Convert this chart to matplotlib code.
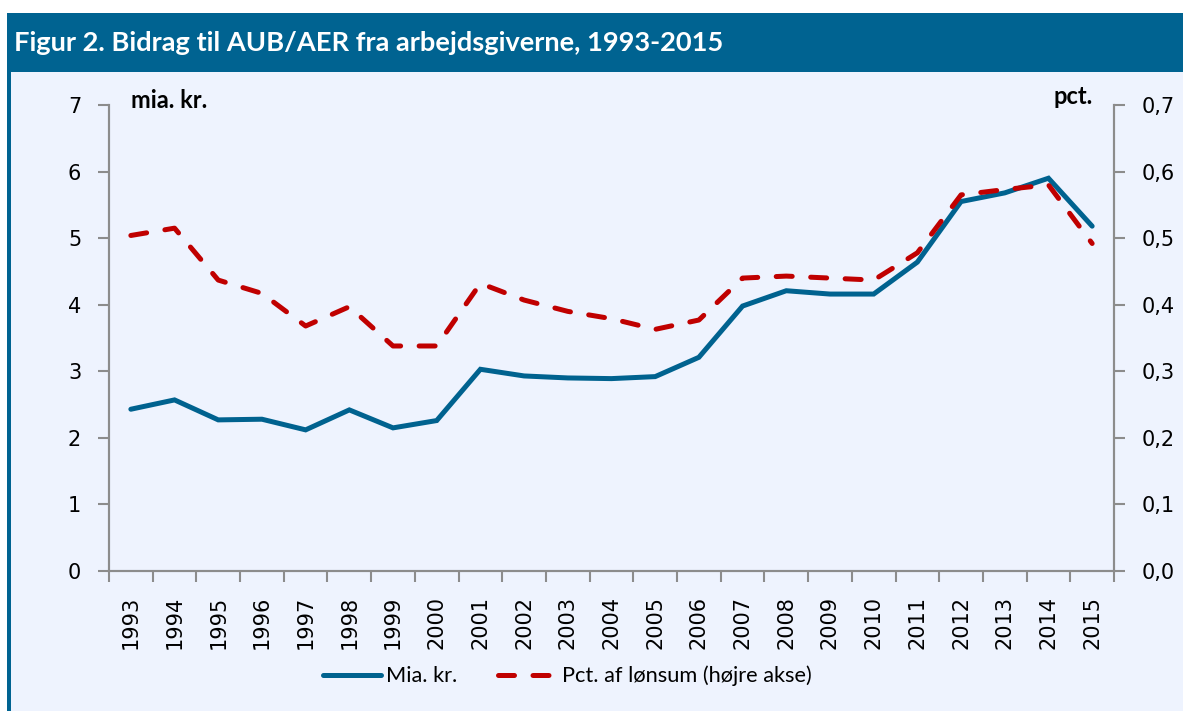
import numpy as np
import matplotlib
matplotlib.use("Agg")
import matplotlib.pyplot as plt
from matplotlib.patches import Rectangle

# data
years = [str(y) for y in range(1993, 2016)]
mia_kr = [2.43, 2.57, 2.27, 2.28, 2.12, 2.42, 2.15, 2.26, 3.03, 2.93, 2.90, 2.89,
          2.92, 3.21, 3.98, 4.21, 4.16, 4.16, 4.64, 5.55, 5.68, 5.90, 5.18]
pct_loen = [0.504, 0.515, 0.437, 0.417, 0.368, 0.397, 0.338, 0.338, 0.432, 0.407,
            0.390, 0.379, 0.363, 0.377, 0.440, 0.443, 0.440, 0.437, 0.478, 0.565,
            0.573, 0.580, 0.492]
left_ticks = list(range(0, 8))
right_ticks = [0.0, 0.1, 0.2, 0.3, 0.4, 0.5, 0.6, 0.7]

W, H = 1183, 711
bg = "#EEF3FE"
dark = "#006391"
blue = "#00628F"
red = "#C00000"
grey = "#8C8C8C"
lab_font = "DejaVu Sans"
txt_font = "Lato"

fig = plt.figure(figsize=(W / 100, H / 100), dpi=100, facecolor="white")

# background panel, left border and header band
fig.patches.append(Rectangle((7 / W, 0), 1 - 7 / W, 1 - 13 / H, transform=fig.transFigure,
                             facecolor=bg, edgecolor="none", zorder=-3))
fig.patches.append(Rectangle((7 / W, 0), 4 / W, 1 - 13 / H, transform=fig.transFigure,
                             facecolor=dark, edgecolor="none", zorder=-2))
fig.patches.append(Rectangle((7 / W, 1 - 72 / H), 1 - 7 / W, 59 / H, transform=fig.transFigure,
                             facecolor=dark, edgecolor="none", zorder=-2))
fig.text(14 / W, 1 - 43 / H, "Figur 2. Bidrag til AUB/AER fra arbejdsgiverne, 1993-2015",
         color="white", fontsize=19.6, fontweight="bold", family=txt_font,
         va="center", ha="left")

ax = fig.add_axes([109 / W, 1 - 571 / H, (1114 - 109) / W, (571 - 105) / H])
ax.set_facecolor("none")
ax2 = ax.twinx()

x = np.arange(len(years))
l1, = ax.plot(x, mia_kr, color=blue, lw=3.6, solid_capstyle="round",
              solid_joinstyle="miter", zorder=3)
l2, = ax2.plot(x, pct_loen, color=red, lw=3.6, linestyle=(0, (3.2, 3.7)),
               dash_capstyle="round", zorder=3)

ax.set_xlim(-0.5, len(years) - 0.5)
ax.set_ylim(0, 7)
ax2.set_ylim(0, 0.7)

ax.set_yticks(left_ticks)
ax.set_yticklabels([str(t) for t in left_ticks], fontsize=15, family=lab_font)
ax2.set_yticks(right_ticks)
ax2.set_yticklabels([f"{t:.1f}".replace(".", ",") for t in right_ticks],
                    fontsize=15, family=lab_font)

ax.set_xticks(x)
ax.set_xticklabels(years, rotation=90, fontsize=15, family=lab_font)
ax.set_xticks(np.arange(len(years) + 1) - 0.5, minor=True)
ax.tick_params(axis="x", which="major", length=0, pad=18)
ax.tick_params(axis="x", which="minor", length=8, width=1.5, color=grey)
ax.tick_params(axis="y", length=8, width=1.5, color=grey, pad=12)
ax2.tick_params(axis="y", length=8, width=1.5, color=grey, pad=12)

for a in (ax, ax2):
    a.spines["top"].set_visible(False)
    for s in ("left", "right", "bottom"):
        a.spines[s].set_color(grey)
        a.spines[s].set_linewidth(1.5)

fig.text(131 / W, 1 - 100 / H, "mia. kr.", fontsize=17, fontweight="bold",
         family=txt_font, va="center", ha="left")
fig.text(1093 / W, 1 - 97 / H, "pct.", fontsize=17, fontweight="bold",
         family=txt_font, va="center", ha="right")

fig.legend([l1, l2], ["Mia. kr.", "Pct. af lønsum (højre akse)"],
           loc="center", bbox_to_anchor=(567 / W, 1 - 676 / H), ncol=2,
           frameon=False, handlelength=2.7, handletextpad=0.2, columnspacing=1.9,
           prop={"family": txt_font, "size": 15.7})

fig.savefig("out.png", dpi=100, facecolor=fig.get_facecolor())
